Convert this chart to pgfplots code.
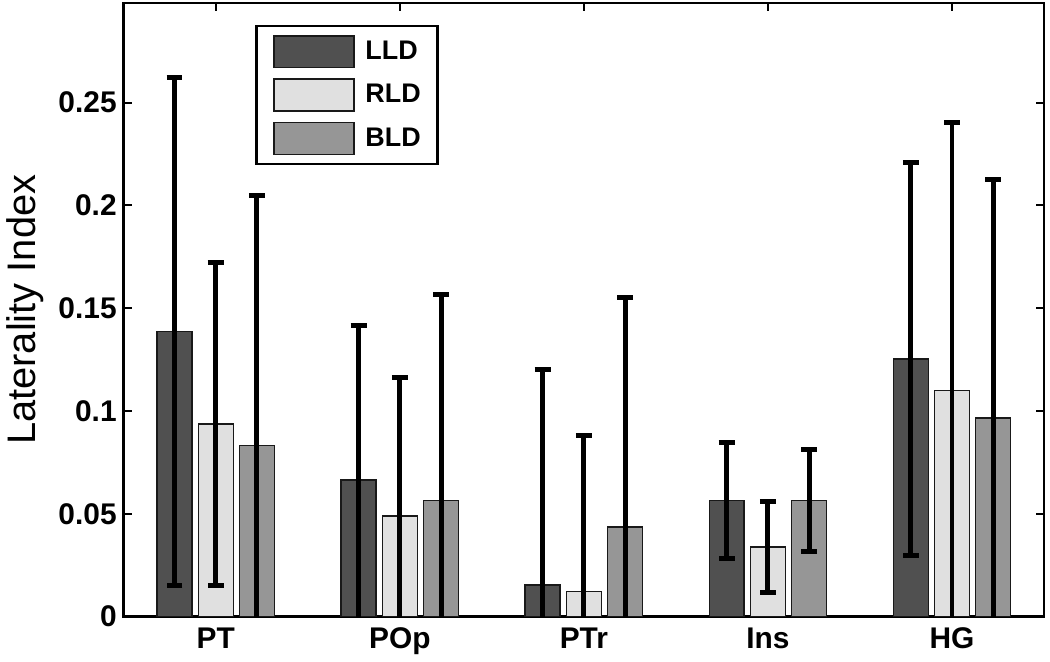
\documentclass[border=0pt]{standalone}
\usepackage{fontspec}
\setmainfont{Liberation Sans}
\usepackage{pgfplots}
\pgfplotsset{compat=1.18}
\usepackage{pgfplotstable}

\definecolor{lld}{RGB}{80,80,80}
\definecolor{rld}{RGB}{224,224,224}
\definecolor{bld}{RGB}{150,150,150}

\pgfplotstableread{
x y e
0 0.1387 0.1235
1 0.0664 0.0753
2 0.0154 0.1048
3 0.0565 0.0283
4 0.1253 0.0955
}\lld
\pgfplotstableread{
x y e
0 0.0937 0.0785
1 0.0489 0.0672
2 0.0123 0.0760
3 0.0339 0.0223
4 0.1099 0.1304
}\rld
\pgfplotstableread{
x y e
0 0.0832 0.1218
1 0.0565 0.1000
2 0.0436 0.1115
3 0.0565 0.0250
4 0.0965 0.1161
}\bld

\pgfplotsset{myerr/.style={forget plot, draw=none, mark=none,
  error bars/y dir=both, error bars/y explicit,
  error bars/error bar style={line width=2.5pt, draw=black, solid},
  error bars/error mark options={rotate=90, line width=2.5pt, mark size=4pt, draw=black, solid}}}

\begin{document}
\begin{tikzpicture}
\begin{axis}[name=ax,
  width=462pt, height=308pt, scale only axis,
  xmin=-0.5, xmax=4.5, ymin=0, ymax=0.2985,
  xtick={0,1,2,3,4}, xticklabels={PT,POp,PTr,Ins,HG},
  ytick={0,0.05,0.1,0.15,0.2,0.25},
  yticklabels={0,0.05,0.1,0.15,0.2,0.25},
  tick align=inside, tick pos=both, major tick length=4pt,
  tick style={line width=1pt, black},
  axis line style={line width=1.2pt},
  tick label style={font=\fontsize{15}{18}\selectfont\bfseries},
  xticklabel style={yshift=-2pt},
  ylabel={Laterality Index},
  ylabel style={font=\fontsize{20}{24}\selectfont, at={(axis description cs:-0.107,0.5)}, anchor=center},
  legend style={at={(axis description cs:0.143,0.964)}, anchor=north west,
    draw=black, line width=1.2pt, fill=white,
    inner xsep=8.5pt, inner ysep=4.5pt, row sep=5pt, column sep=5.5pt,
    font=\fontsize{13.5}{16}\selectfont\bfseries,
    nodes={inner sep=0pt}},
  legend cell align=left,
]
\addplot[ybar, bar width=0.19, bar shift=-0.224, fill=lld, draw=black!90, line width=0.7pt,
  legend image code/.code={\draw[fill=lld, draw=black!90, line width=0.7pt] (0pt,-8pt) rectangle (40pt,8pt);}]
  table[x=x, y=y] {\lld};
\addplot[ybar, bar width=0.19, bar shift=0, fill=rld, draw=black!90, line width=0.7pt,
  legend image code/.code={\draw[fill=rld, draw=black!90, line width=0.7pt] (0pt,-8pt) rectangle (40pt,8pt);}]
  table[x=x, y=y] {\rld};
\addplot[ybar, bar width=0.19, bar shift=0.224, fill=bld, draw=black!90, line width=0.7pt,
  legend image code/.code={\draw[fill=bld, draw=black!90, line width=0.7pt] (0pt,-8pt) rectangle (40pt,8pt);}]
  table[x=x, y=y] {\bld};
\legend{LLD,RLD,BLD}
\addplot[myerr] table[x expr=\thisrow{x}-0.224, y=y, y error=e] {\lld};
\addplot[myerr] table[x=x, y=y, y error=e] {\rld};
\addplot[myerr] table[x expr=\thisrow{x}+0.224, y=y, y error=e] {\bld};
\end{axis}
\path ([xshift=-60pt,yshift=-22.5pt]ax.south west) rectangle ([xshift=3pt,yshift=1.5pt]ax.north east);
\end{tikzpicture}
\end{document}
